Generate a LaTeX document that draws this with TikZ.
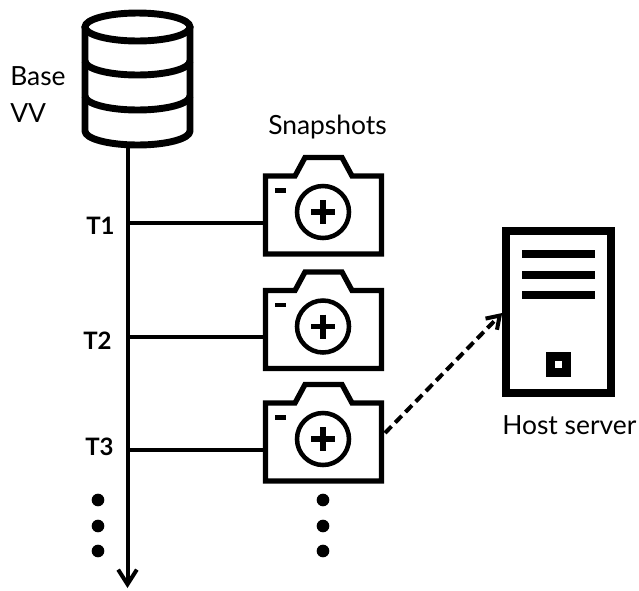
\documentclass[tikz,border=0pt]{standalone}
\usepackage{fontspec}
\setmainfont{Lato}
\usetikzlibrary{arrows.meta}
\tikzset{
  px/.style={x=0.75pt,y=-0.75pt},
  label/.style={inner sep=0pt,font=\fontsize{19.8}{22}\selectfont,anchor=base west},
  tlabel/.style={inner sep=0pt,font=\fontsize{18}{20}\selectfont\bfseries,anchor=base west},
  wire/.style={line width=3pt},
  camline/.style={line width=4pt,miter limit=10},
  dot/.style={circle,fill=black,inner sep=0pt,minimum size=9.5pt},
  body/.style={rectangle,inner sep=0pt,minimum width=90pt,minimum height=61pt},
}
% #1 name, #2 vertical offset of the camera
\newcommand{\camera}[2]{%
  \begin{scope}[shift={(0,#2)}]
    \node[body] (#1) at (323.5,215) {};
    \draw[camline,line join=miter] (265.5,176) -- (295,176) -- (305,157.5) -- (342,157.5) -- (352,176) -- (381.5,176) -- (381.5,254) -- (265.5,254) -- cycle;
    \draw[line width=3.4pt] (323,212) circle (26);
    \draw[line width=4pt] (311,212) -- (335,212) (323,200) -- (323,224);
    \fill (275,188) rectangle (286,192.5);
  \end{scope}}
\begin{document}
\begin{tikzpicture}[px]
\useasboundingbox (0,0) rectangle (639,590);
% database
\node[inner sep=0pt,minimum width=105pt,minimum height=100pt] (db) at (137.5,79) {};
\draw[line width=5.2pt] (137.5,27) ellipse (52.5 and 14);
\draw[line width=5.2pt,line cap=round,line join=round]
  (85,27) -- (85,131) arc[start angle=180,end angle=360,x radius=52.5,y radius=-14] -- (190,27);
\draw[line width=5.2pt] (85,61) arc[start angle=180,end angle=360,x radius=52.5,y radius=-14];
\draw[line width=5.2pt] (85,96) arc[start angle=180,end angle=360,x radius=52.5,y radius=-14];
\node[label] (base) at (10,85) {Base};
\node[label] (vv) at (10,122) {VV};
\node[label] (snap) at (268,134) {Snapshots};
% axis
\coordinate (axtop) at (127.5,148);
\coordinate (axend) at (127.5,588);
\draw[wire,-{Straight Barb[length=11pt,width=14pt,line width=3pt]}] (axtop) -- (axend);
% cameras
\camera{cam1}{0}
\camera{cam2}{114.5}
\camera{cam3}{227}
% ticks
\coordinate (t1) at (129,223);
\coordinate (t2) at (129,337);
\coordinate (t3) at (129,450);
\draw[wire] (t1) -- (cam1.west |- t1);
\draw[wire] (t2) -- (cam2.west |- t2);
\draw[wire] (t3) -- (cam3.west |- t3);
\node[tlabel] (lt1) at (86,234) {T1};
\node[tlabel] (lt2) at (83,349) {T2};
\node[tlabel] (lt3) at (85,455) {T3};
% dots
\foreach \n/\y in {a/500,b/526,c/551}{
  \node[dot] (l\n) at (98,\y) {};
  \node[dot] (r\n) at (323,\y) {};
}
% server
\node[draw,line width=6pt,rectangle,inner sep=0pt,minimum width=78.5pt,minimum height=121.5pt] (srv) at (558.5,312) {};
\foreach \y in {254,275,295}{\fill (522,\y-4) rectangle (595,\y+4);}
\draw[line width=7pt] (550.5,356.5) rectangle (566.5,372.5);
\node[label] (host) at (502,434) {Host server};
% dashed
\coordinate (from) at (385,433);
\draw[line width=3pt,dash pattern=on 7pt off 4pt,-{Straight Barb[length=9pt,width=12pt,line width=3pt]}] (from) -- (srv.west |- 0,313);
\end{tikzpicture}
\end{document}
